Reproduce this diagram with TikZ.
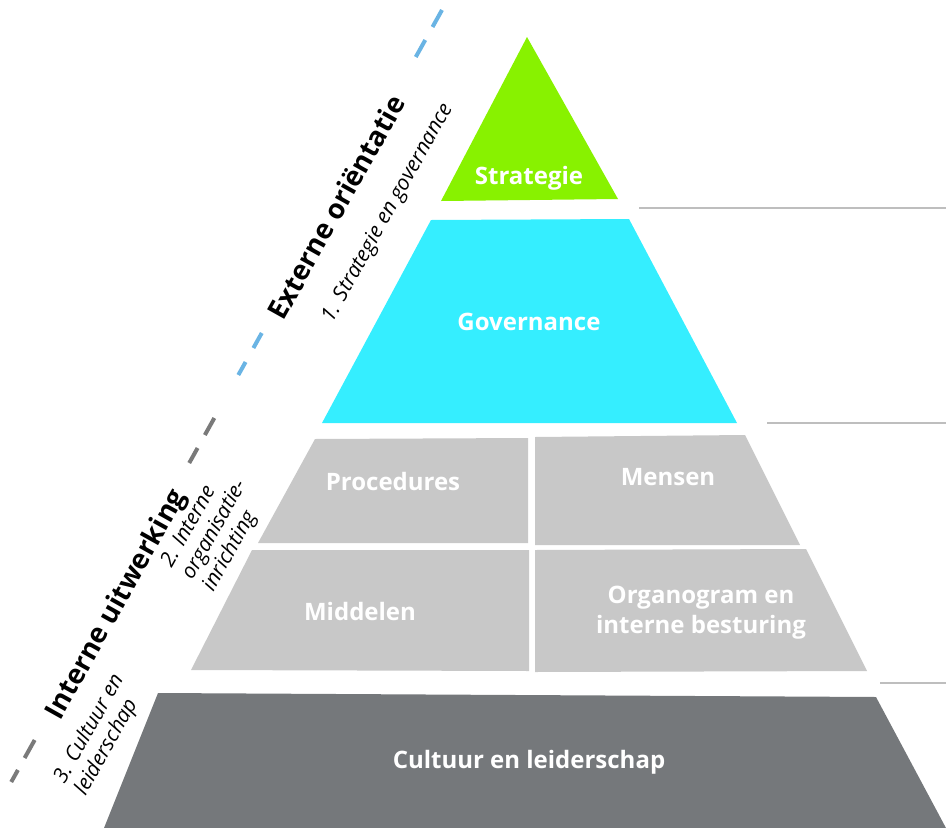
\documentclass[tikz,border=0pt]{standalone}
\usepackage{fontspec}
\setmainfont{Open Sans}
\definecolor{cgreen}{HTML}{88F200}
\definecolor{ccyan}{HTML}{35EEFF}
\definecolor{clight}{HTML}{C8C8C8}
\definecolor{cdark}{HTML}{75787B}
\definecolor{cline}{HTML}{BEBEBE}
\definecolor{cblue}{HTML}{6AB4E4}
\definecolor{cgdash}{HTML}{7A7A7A}
\begin{document}
\begin{tikzpicture}[x=1pt,y=-1pt,
  lab/.style={text=white,font=\bfseries\fontsize{24}{30}\selectfont,align=center,inner sep=0pt},
  head/.style={text=black,font=\bfseries\fontsize{27.5}{32}\selectfont,rotate=60.8,inner sep=0pt},
  sub/.style={text=black,font=\itshape\fontsize{21}{24}\selectfont,rotate=60.8,inner sep=0pt,align=left},
  hline/.style={cline,line width=2pt},
  bdash/.style={cblue,line width=4pt},
  gdash/.style={cgdash,line width=4pt}]
\useasboundingbox (0,0) rectangle (946,828);
% dashed guide line x(y)=442-0.558(y-10)
\foreach \a/\b in {10/27,40/57,333/348,362/375}
  \draw[bdash] ({442-0.558*(\a-10)},\a) -- ({442-0.558*(\b-10)},\b);
\foreach \a/\b in {418/435,448/463,740/758,770/782}
  \draw[gdash] ({442-0.558*(\a-10)},\a) -- ({442-0.558*(\b-10)},\b);
% pyramid
\fill[cgreen] (527,37) -- (618,199) -- (441,201) -- cycle;
\fill[ccyan] (431,220) -- (629,219) -- (737,423) -- (322,423) -- cycle;
\fill[clight] (315,439) -- (528,438) -- (528,543) -- (258,543) -- cycle;
\fill[clight] (535,437) -- (745,435) -- (800,545) -- (535,545) -- cycle;
\fill[clight] (252,550) -- (529,550) -- (529,671) -- (191,670) -- cycle;
\fill[clight] (535,550) -- (806,549) -- (867,671) -- (535,672) -- cycle;
\fill[cdark] (158,693) -- (876,697) -- (946,828) -- (104,828) -- cycle;
% side lines
\draw[hline] (639,208) -- (946,208);
\draw[hline] (767,423) -- (946,423);
\draw[hline] (880,683) -- (946,683);
% labels
\node[lab] (strat) at (529,178) {Strategie};
\node[lab] (gov) at (529,322) {Governance};
\node[lab] (proc) at (393,481) {Procedures};
\node[lab] (mens) at (668,477) {Mensen};
\node[lab] (midd) at (360,611) {Middelen};
\node[lab] (orga) at (701,613) {Organogram en\\interne besturing};
\node[lab] (cult) at (529,762) {Cultuur en leiderschap};
% side texts
\node[head] (ext) at (336,207) {Externe oriëntatie};
\node[sub] (s1) at (388,213) {1. Strategie en governance};
\node[head] (int) at (117,605) {Interne uitwerking};
\node[sub] (s2) at (215,530) {2. Interne\\organisatie-\\inrichting};
\node[sub] (s3) at (100,735) {3. Cultuur en\\leiderschap};
\end{tikzpicture}
\end{document}
